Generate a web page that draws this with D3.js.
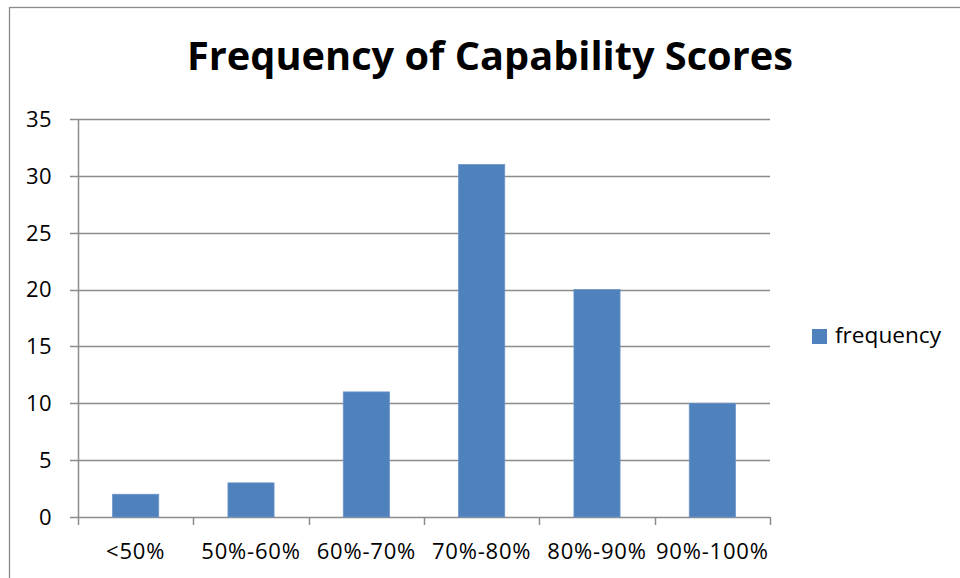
<!DOCTYPE html>
<html>
<head>
<meta charset="utf-8">
<script src="https://cdn.jsdelivr.net/npm/d3@7"></script>
<style>
html,body{margin:0;padding:0;background:#fff;}
svg{display:block;}
text{font-family:"Open Sans","Lato",sans-serif;fill:#000;}
</style>
</head>
<body>
<svg id="chart" width="960" height="578"></svg>
<script>
const title = "Frequency of Capability Scores";
const categories = ["<50%", "50%-60%", "60%-70%", "70%-80%", "80%-90%", "90%-100%"];
const frequency = [2, 3, 11, 31, 20, 10];
const seriesName = "frequency";
const yTicks = [0, 5, 10, 15, 20, 25, 30, 35];

const svg = d3.select("#chart");
const plot = {left: 78, right: 770, top: 119, bottom: 517};

// outer chart border (extends off-canvas at right/bottom)
svg.append("rect").attr("x", 9.5).attr("y", 7.5).attr("width", 1000).attr("height", 1000)
  .attr("fill", "#fff").attr("stroke", "#8a8a8a").attr("stroke-width", 1.3);

const x = d3.scaleBand().domain(categories).range([plot.left, plot.right]).paddingInner(0.6).paddingOuter(0.3);
const xb = d3.scaleBand().domain(categories).range([plot.left, plot.right]);
const y = d3.scaleLinear().domain([0, 35]).range([plot.bottom, plot.top]);

// gridlines
svg.append("g").selectAll("line").data(yTicks).join("line")
  .attr("x1", plot.left - 8).attr("x2", plot.right)
  .attr("y1", d => Math.round(y(d)) + 0.5).attr("y2", d => Math.round(y(d)) + 0.5)
  .attr("stroke", "#8c8c8c").attr("stroke-width", 1.5);

// y-axis line
svg.append("line").attr("x1", plot.left + 0.5).attr("x2", plot.left + 0.5)
  .attr("y1", plot.top).attr("y2", plot.bottom)
  .attr("stroke", "#8c8c8c").attr("stroke-width", 1.5);

// y labels
svg.append("g").selectAll("text").data(yTicks).join("text")
  .attr("x", 52).attr("y", d => y(d)).attr("dy", "0.36em")
  .attr("text-anchor", "end").style("font-size", "22px").style("letter-spacing", "0.4px").text(d => d);

// x category tick marks
const xEdges = categories.map(c => xb(c)).concat([plot.right]);
svg.append("g").selectAll("line").data(xEdges).join("line")
  .attr("x1", d => Math.round(d) + 0.5).attr("x2", d => Math.round(d) + 0.5)
  .attr("y1", plot.bottom).attr("y2", plot.bottom + 8)
  .attr("stroke", "#8c8c8c").attr("stroke-width", 1.5);

// bars
svg.append("g").selectAll("rect").data(frequency).join("rect")
  .attr("x", (d, i) => x(categories[i]))
  .attr("width", x.bandwidth())
  .attr("y", d => y(d))
  .attr("height", d => y(0) - y(d))
  .attr("fill", "#4F81BD").attr("stroke", "#6b93c8").attr("stroke-width", 0.8);

// x labels
svg.append("g").selectAll("text").data(categories).join("text")
  .attr("x", d => xb(d) + xb.bandwidth() / 2).attr("y", 559)
  .attr("text-anchor", "middle").style("font-size", "22px").style("letter-spacing", "0.8px").text(d => d);

// title
const t = svg.append("text").attr("x", 490).attr("y", 70).attr("text-anchor", "middle")
  .style("font-size", "38px").style("font-weight", "bold").text(title);
const tw = t.node().getComputedTextLength();
t.style("font-size", (38 * 606 / tw).toFixed(2) + "px");

// legend
svg.append("rect").attr("x", 812).attr("y", 329).attr("width", 15).attr("height", 15).attr("fill", "#4F81BD");
const lt = svg.append("text").attr("x", 835).attr("y", 343).style("font-size", "20px").text(seriesName);
const lw = lt.node().getComputedTextLength();
lt.style("font-size", (20 * 106 / lw).toFixed(2) + "px");
</script>
</body>
</html>
